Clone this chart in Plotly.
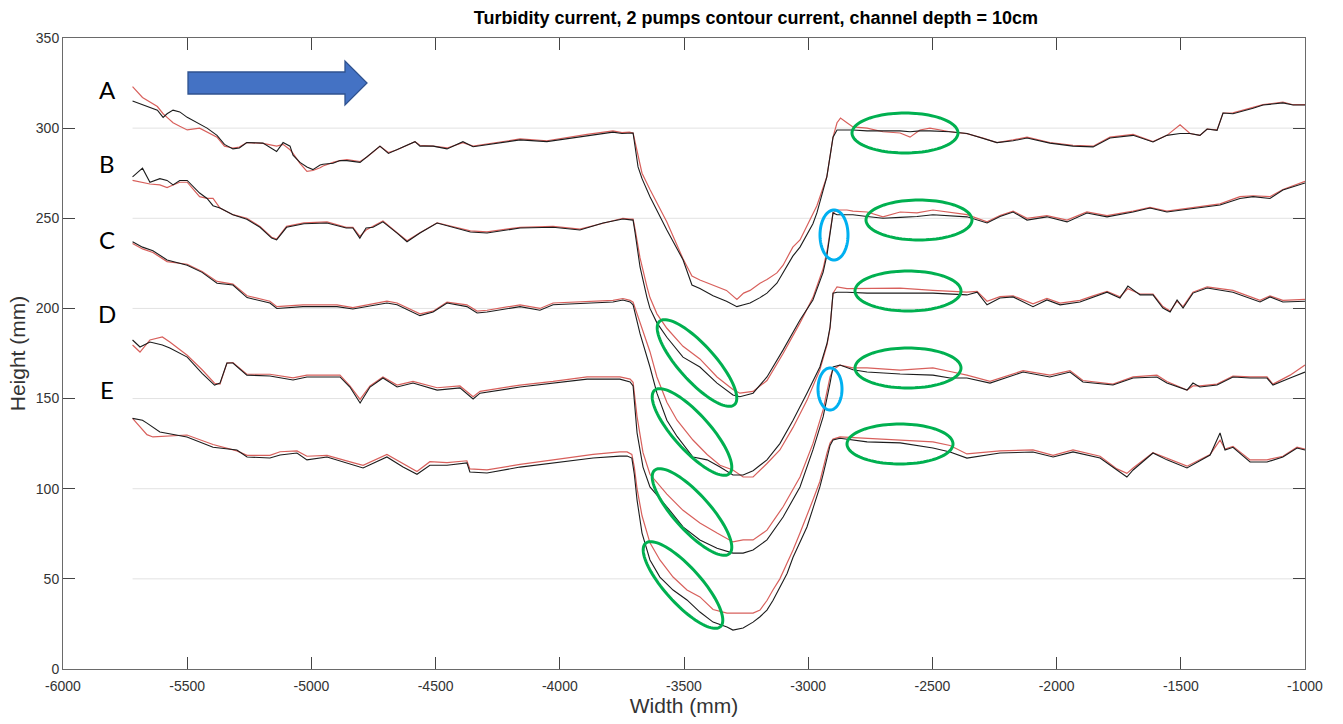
import numpy as np
import plotly.graph_objects as go

# ---------------- profile data (Width mm, Height mm) ----------------
# Each profile: shared x positions, black run and red run heights.

x_A = [-5720, -5680, -5620, -5597, -5581, -5557, -5530, -5500, -5450, -5420,
       -5380, -5350, -5316, -5290, -5260, -5195, -5140, -5114, -5086, -5074,
       -5046, -5018, -4994, -4965, -4953, -4913, -4885, -4857, -4804, -4776,
       -4724, -4690, -4655, -4583, -4563, -4510, -4454, -4390, -4349, -4160,
       -4052, -3890, -3786, -3750, -3720, -3705, -3685, -3669, -3637, -3569,
       -3504, -3468, -3436, -3383, -3329, -3287, -3260, -3234, -3194, -3166,
       -3126, -3101, -3062, -3033, -2981, -2965, -2925, -2900, -2884, -2870,
       -2844, -2820, -2763, -2699, -2630, -2590, -2550, -2510, -2429, -2361,
       -2296, -2240, -2175, -2119, -2027, -1934, -1853, -1785, -1692, -1612,
       -1556, -1503, -1463, -1423, -1394, -1354, -1330, -1290, -1209, -1169,
       -1089, -1048, -1000]
A_black = [315, 313, 310, 306, 308, 310, 309, 306, 302, 300,
           296, 291, 288.5, 289, 292, 291.7, 287, 292, 290, 285,
           281, 278.5, 277, 279.6, 280, 280.5, 282, 282, 281, 284,
           290, 286, 288, 292.5, 290, 290, 288.5, 292.5, 289.7, 293.5,
           292.5, 295.6, 297.8, 297, 297.3, 297.3, 278.5, 272, 262, 243.5,
           227, 213, 211, 207, 204, 201, 202, 203, 206, 208.5,
           214, 219.7, 229, 234, 247, 253, 273, 295, 299, 299,
           299, 299, 298.5, 298.5, 298.5, 298, 298.5, 298.5, 298, 297,
           294.5, 292, 293, 294.5, 291.7, 290, 289.6, 294.5, 296, 292.3,
           296, 297, 297, 296, 299.5, 298.8, 308.4, 308, 311, 312.8,
           314, 312.8, 312.8]
A_red = [323, 317, 312, 308, 306, 303, 301, 299, 300, 298,
         295, 290, 289, 289.5, 292, 291.5, 290, 291, 288, 286,
         280.5, 276, 276.5, 278, 279, 281, 282, 282.5, 281.5, 284,
         290, 286.5, 288, 292.5, 290.5, 290, 289, 292, 290, 294,
         293, 296.5, 298.5, 297.5, 297.8, 297.3, 285, 275, 266, 248,
         227.5, 218, 215.8, 213, 210, 205, 208.5, 210, 214, 216,
         219.7, 224, 234, 238, 253, 257, 273, 295, 303, 305.6,
         303, 300.7, 300, 298, 297.3, 295, 299, 300, 298, 297,
         294.5, 292, 293.5, 295, 292, 290.5, 290, 295, 296.5, 292.5,
         296, 301.8, 297, 296, 299.5, 299, 308.4, 308.5, 311.5, 313,
         314.5, 313, 313]

x_B = [-5720, -5680, -5650, -5610, -5581, -5557, -5530, -5500, -5450, -5420,
       -5396, -5368, -5316, -5260, -5207, -5160, -5140, -5100, -5030, -4937,
       -4860, -4833, -4805, -4780, -4752, -4712, -4655, -4615, -4563, -4494,
       -4360, -4293, -4160, -4027, -3919, -3890, -3826, -3746, -3717, -3705,
       -3697, -3677, -3649, -3637, -3609, -3569, -3504, -3436, -3367, -3303,
       -3275, -3222, -3166, -3101, -3033, -2981, -2940, -2924, -2900, -2884,
       -2844, -2820, -2763, -2699, -2630, -2562, -2498, -2361, -2280, -2228,
       -2175, -2119, -2039, -1958, -1878, -1797, -1692, -1624, -1556, -1423,
       -1342, -1262, -1209, -1141, -1089, -1000]
B_black = [273, 277.8, 270, 272, 271, 268.5, 271, 271, 264, 261,
           257, 255.7, 252, 249.5, 245, 239, 238, 245, 247, 247.4,
           244.6, 244.6, 239, 244.6, 245, 248, 241.8, 237, 241.8, 247.4,
           242.4, 241.8, 244.6, 245, 243.5, 244.6, 247.4, 249.6, 249, 249,
           242, 223, 206, 200, 192, 184, 173, 167.5, 158.6, 152,
           151, 153, 162, 177, 193.6, 204.7, 220, 230, 253, 252,
           252, 252, 251, 250, 250.5, 251, 252, 250.8, 247.4, 251,
           253.5, 249, 250.8, 248, 252.9, 250.8, 253.5, 255.7, 253.5, 255.7,
           257.4, 261, 262, 261, 265.7, 269.6]
B_red = [271, 270, 269, 268.5, 267, 268.5, 270, 270, 262, 261,
         261, 255.7, 252, 250, 245.5, 239.5, 238.5, 245.5, 247.5, 248,
         245, 245, 240, 243.5, 245.5, 248.5, 242, 237.5, 242, 247.5,
         243, 242.5, 245, 245.5, 244, 245, 247.5, 250, 249.5, 249.5,
         244, 228, 212, 206, 197, 189, 179, 172, 162, 155,
         153, 154, 160, 175, 192, 206, 222, 232, 253, 254.6,
         254.6, 254, 253.5, 250.8, 253.5, 253, 254.6, 252, 248, 251.5,
         254, 250, 251.5, 249, 253.5, 251.5, 254, 256, 254, 256.5,
         258, 262, 262.5, 262, 266, 270.5]

x_C = [-5720, -5680, -5638, -5581, -5500, -5440, -5380, -5316, -5259, -5167,
       -5139, -5034, -4897, -4833, -4696, -4655, -4563, -4510, -4454, -4374,
       -4333, -4293, -4160, -4080, -4027, -3890, -3786, -3746, -3717, -3705,
       -3677, -3637, -3609, -3569, -3528, -3464, -3407, -3355, -3303, -3262,
       -3222, -3194, -3166, -3114, -3061, -3005, -2953, -2924, -2912, -2900,
       -2884, -2844, -2763, -2630, -2498, -2361, -2320, -2280, -2228, -2175,
       -2095, -2039, -1986, -1906, -1853, -1797, -1745, -1713, -1664, -1612,
       -1572, -1543, -1515, -1491, -1451, -1394, -1290, -1181, -1141, -1089,
       -1000]
C_black = [237, 234, 232, 226.9, 224, 220, 214, 213, 206, 203,
           200, 201, 201, 199.7, 203, 202, 196, 198, 203, 201,
           197.5, 198, 201, 199, 202, 203, 203.6, 204.7, 203.6, 202,
           186, 167.5, 153, 138, 129, 117.6, 116, 112, 107.6, 107.6,
           110, 113, 116, 125, 138, 153, 167.5, 180.8, 189.7, 208.5,
           209, 209, 208.5, 208.5, 208.5, 207.5, 209, 202, 205.8, 206.4,
           201, 204.7, 202, 203.6, 206.4, 209, 205.8, 212.4, 207.5, 207.5,
           200.2, 198, 204.7, 200.2, 208.5, 211.3, 209, 203.6, 206.4, 203.6,
           204]
C_red = [236, 233, 231, 226, 224.5, 220.5, 215, 213.5, 207, 204,
         201, 202, 202, 200.5, 204, 203, 197, 198.5, 203.5, 202,
         198.5, 199, 202, 200, 203, 204, 204.5, 205.5, 204.5, 203.5,
         192, 176, 162, 148, 138, 127, 119, 113, 110.4, 106.5,
         106.5, 110, 114, 121.5, 134, 149, 166, 180, 189, 208.5,
         212, 211, 211, 211.3, 210, 209, 209.5, 204, 206.5, 207,
         202.5, 205.5, 203, 204.5, 207, 209.5, 206.5, 211, 208, 208,
         201, 198.5, 204, 201, 209, 212, 210, 204.5, 207, 204.5,
         205]

x_D = [-5720, -5690, -5650, -5600, -5570, -5500, -5440, -5390, -5368, -5340,
       -5316, -5260, -5167, -5074, -5018, -4885, -4845, -4804, -4764, -4712,
       -4655, -4591, -4494, -4402, -4349, -4321, -4160, -4027, -3890, -3758,
       -3717, -3705, -3689, -3665, -3637, -3569, -3504, -3436, -3367, -3303,
       -3262, -3222, -3166, -3101, -3033, -2981, -2940, -2912, -2900, -2872,
       -2820, -2763, -2630, -2498, -2429, -2361, -2268, -2135, -2027, -1946,
       -1894, -1773, -1692, -1596, -1556, -1475, -1451, -1423, -1354, -1290,
       -1221, -1153, -1129, -1060, -1000]
D_black = [182.5, 178.6, 181.4, 179.7, 178, 173, 164, 157.5, 158.6, 169.7,
           169.7, 163, 162.5, 160.3, 162, 162, 156.4, 147.5, 156.4, 161.4,
           156.4, 158.6, 154.7, 155.9, 149.8, 153, 156.4, 158.6, 160.8, 160.8,
           159.2, 157, 131, 112, 101, 90, 78.8, 71.6, 67, 64.3,
           64.3, 66, 71.6, 84.3, 101, 121.5, 139.8, 158.6, 167.5, 168.6,
           166, 164.7, 163.6, 163, 161.4, 161.4, 158.6, 164.7, 162, 164.7,
           159.2, 157.5, 161.4, 162, 158.6, 154.7, 158.6, 156.4, 157.5, 162,
           161.4, 161.4, 157.5, 161.4, 164.7]
D_red = [179.7, 175.8, 182.5, 184.2, 181.4, 174, 166, 158.5, 158, 169.7,
         170, 163.5, 163.5, 161.5, 163, 163, 157, 149.5, 157, 162,
         157.5, 159.5, 156, 157, 151, 154, 157.5, 159.5, 162, 162,
         160.8, 159, 140, 120, 108, 97, 88, 81, 75.4, 70.5,
         71.6, 71.6, 77, 90, 106.5, 125, 143.7, 162, 166, 168.6,
         167, 167, 165.8, 167, 165, 163, 159.5, 165.5, 163, 165.5,
         160, 158, 162, 163, 159.5, 154.7, 157, 157, 158, 162.5,
         162, 162, 158, 163, 168.6]

x_E = [-5720, -5680, -5662, -5638, -5610, -5501, -5396, -5300, -5259, -5167,
       -5126, -5058, -5018, -4937, -4833, -4792, -4696, -4631, -4575, -4523,
       -4454, -4374, -4362, -4293, -4160, -4027, -3866, -3758, -3729, -3710,
       -3700, -3689, -3669, -3637, -3597, -3544, -3488, -3436, -3383, -3327,
       -3303, -3262, -3222, -3194, -3166, -3142, -3114, -3085, -3061, -3033,
       -3005, -2981, -2953, -2940, -2924, -2912, -2900, -2872, -2763, -2630,
       -2498, -2429, -2361, -2228, -2095, -2014, -1934, -1825, -1757, -1717,
       -1692, -1612, -1556, -1475, -1382, -1342, -1322, -1290, -1221, -1153,
       -1089, -1032, -1000]
E_black = [139, 138, 136.4, 134, 131.5, 128.7, 123, 121.5, 117.6, 117,
           118.7, 119.8, 116, 117.6, 113, 111.5, 117.6, 112, 108, 113,
           113, 114.3, 109.3, 108.7, 112, 114.3, 117, 118.1, 118.1, 117,
           108, 93.7, 75.4, 60.5, 51, 43.8, 38.3, 31.6, 26, 23.3,
           21.6, 22.7, 26, 29, 32.7, 38, 45.5, 53, 62, 70,
           78.8, 89, 101, 108, 117.6, 124, 127, 128, 126, 125.4,
           122.6, 120.4, 117, 119.8, 120.4, 117.6, 120.4, 117, 110.4, 106.5,
           110.4, 119.8, 116, 111.5, 118.7, 130.9, 121.5, 123, 114.8, 114.8,
           117.6, 122.6, 121.5]
E_red = [139, 132.6, 130, 128.7, 129, 129.8, 124.5, 121, 118.5, 118.5,
         120.5, 121, 118, 118.5, 114.5, 113, 119, 114, 109.5, 115,
         114.5, 115.5, 111, 110.5, 113.5, 116, 119, 120.4, 120.4, 119,
         112, 100, 85, 70, 60.5, 51, 43.8, 40, 33, 31,
         31, 31, 31, 32.7, 38, 43.8, 50, 58.8, 66, 75.4,
         85, 93.7, 104, 112, 120, 125.4, 127.5, 128.7, 128, 127,
         126, 124, 119.3, 121, 121.5, 118.5, 121.5, 118, 111, 108.5,
         111.5, 120, 117, 112.5, 119, 127, 122, 123.5, 116, 116,
         118, 123, 122]

profile_names = ["A", "B", "C", "D", "E"]
profiles = [(x_A, A_black, A_red), (x_B, B_black, B_red), (x_C, C_black, C_red),
            (x_D, D_black, D_red), (x_E, E_black, E_red)]

grid_levels = [50, 100, 150, 200, 250, 300]
x_ticks = list(range(-6000, -999, 500))
y_ticks = list(range(0, 351, 50))

# ---------------- geometry helpers for the overlay drawings ----------------
W, H = 1343, 724
L, R, T, B = 63, 1305, 38, 669          # plot area edges on the page
XR, YR = (-6000, -1000), (0, 350)


def px_x(px):
    return XR[0] + (px - L) * (XR[1] - XR[0]) / (R - L)


def px_y(py):
    return YR[0] + (B - py) * (YR[1] - YR[0]) / (B - T)


def ellipse_path(cx, cy, rx, ry, angle_deg=0.0):
    t = np.linspace(0, 2 * np.pi, 97)
    a = np.radians(angle_deg)
    ex = cx + rx * np.cos(t) * np.cos(a) - ry * np.sin(t) * np.sin(a)
    ey = cy + rx * np.cos(t) * np.sin(a) + ry * np.sin(t) * np.cos(a)
    pts = [f"{px_x(u):.3f},{px_y(v):.3f}" for u, v in zip(ex, ey)]
    return "M " + " L ".join(pts) + " Z"


def polygon_path(points):
    pts = [f"{px_x(u):.3f},{px_y(v):.3f}" for u, v in points]
    return "M " + " L ".join(pts) + " Z"


fig = go.Figure()

for (xs, kb, rd) in profiles:
    fig.add_trace(go.Scatter(x=xs, y=rd, mode="lines",
                             line=dict(color="#d8605c", width=1.2),
                             hoverinfo="skip", showlegend=False))
    fig.add_trace(go.Scatter(x=xs, y=kb, mode="lines",
                             line=dict(color="#1c1c1c", width=1.1),
                             hoverinfo="skip", showlegend=False))

shapes = []
# light horizontal grid lines across the profile span
for g in grid_levels:
    shapes.append(dict(type="line", xref="x", yref="y", x0=x_A[0], x1=XR[1],
                       y0=g, y1=g, line=dict(color="#e2e2e2", width=1),
                       layer="below"))

GREEN, BLUE = "#00b050", "#00b0f0"
# flat-bed ellipses right of the channel
for cx, cy in [(905, 133), (919, 220), (908, 291), (908, 368), (900, 444)]:
    shapes.append(dict(type="path", xref="x", yref="y",
                       path=ellipse_path(cx, cy, 53, 20),
                       line=dict(color=GREEN, width=3)))
# tilted ellipses on the left channel wall
for cx, cy in [(697, 363), (692, 432), (692, 512), (683, 585)]:
    shapes.append(dict(type="path", xref="x", yref="y",
                       path=ellipse_path(cx, cy, 56, 18, 48),
                       line=dict(color=GREEN, width=3)))
# small ellipses at the right channel edge
for cx, cy, rx, ry in [(834, 235, 14, 25), (830, 389, 12, 21)]:
    shapes.append(dict(type="path", xref="x", yref="y",
                       path=ellipse_path(cx, cy, rx, ry),
                       line=dict(color=BLUE, width=3)))
# flow-direction arrow
shapes.append(dict(type="path", xref="x", yref="y",
                   path=polygon_path([(188, 72), (345, 72), (345, 61), (367, 83),
                                      (345, 105), (345, 94), (188, 94)]),
                   fillcolor="#4472c4", line=dict(color="#2f528f", width=1.3)))

annotations = []
for name, py in zip(profile_names, [89, 163, 239, 313, 389]):
    annotations.append(dict(x=px_x(107), y=px_y(py), xref="x", yref="y",
                            text=name, showarrow=False,
                            font=dict(family="Lato, Carlito, sans-serif",
                                      size=24, color="#000000")))

tick_font = dict(family="Liberation Sans, Arial, sans-serif",
                 size=14, color="#333333")
axis_common = dict(showgrid=False, zeroline=False, showline=True,
                   linecolor="#6a6a6a", linewidth=1, mirror="ticks",
                   ticks="inside", ticklen=12, tickwidth=1, tickcolor="#444444",
                   tickfont=tick_font)
title_font = dict(family="Liberation Sans, Arial, sans-serif", size=21, color="#333333")

fig.update_layout(
    width=W, height=H, autosize=False,
    margin=dict(l=L, r=W - R, t=T, b=H - B),
    paper_bgcolor="white", plot_bgcolor="white",
    showlegend=False,
    title=dict(text="<b>Turbidity current, 2 pumps contour current, channel depth = 10cm</b>",
               x=756 / W, xanchor="center", y=1 - 18 / H, yanchor="middle",
               xref="container", yref="container",
               font=dict(family="Liberation Sans, Arial, sans-serif", size=18,
                         color="#000000")),
    xaxis=dict(range=list(XR), tickvals=x_ticks,
               ticktext=[str(v) for v in x_ticks], ticklabelstandoff=4,
               title=dict(text="Width (mm)", standoff=4, font=title_font),
               **axis_common),
    yaxis=dict(range=list(YR), tickvals=y_ticks,
               ticktext=[str(v) for v in y_ticks],
               title=dict(text="Height (mm)", standoff=4, font=title_font),
               **axis_common),
    shapes=shapes,
    annotations=annotations,
)

fig.write_html("out.html", config={"displayModeBar": False})
